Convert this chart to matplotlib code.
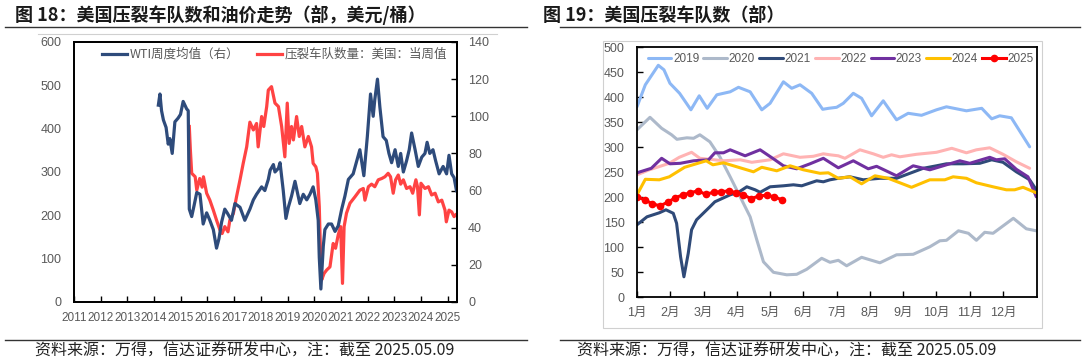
import matplotlib
matplotlib.use('Agg')
import matplotlib.pyplot as plt
from matplotlib.lines import Line2D
from matplotlib.patches import Rectangle

plt.rcParams['font.family'] = ['Noto Sans CJK SC', 'DejaVu Sans']
plt.rcParams['axes.unicode_minus'] = False
NUMFONT = ['Liberation Sans', 'Noto Sans CJK SC']

# ---- left chart: frac fleets vs WTI ----
wti_t = [2014.16, 2014.22, 2014.28, 2014.35, 2014.45, 2014.53, 2014.59, 2014.68, 2014.78, 2014.9,
         2014.99, 2015.09, 2015.22, 2015.28, 2015.32, 2015.41, 2015.5, 2015.6, 2015.72, 2015.84,
         2015.97, 2016.09, 2016.22, 2016.34, 2016.43, 2016.53, 2016.65, 2016.74, 2016.9, 2017.03,
         2017.22, 2017.40, 2017.59, 2017.72, 2017.84, 2018.03, 2018.15, 2018.28, 2018.35, 2018.47,
         2018.53, 2018.66, 2018.72, 2018.84, 2018.94, 2019.03, 2019.15, 2019.28, 2019.4, 2019.46,
         2019.59, 2019.72, 2019.84, 2019.96, 2020.06, 2020.15, 2020.19, 2020.25, 2020.34, 2020.4,
         2020.53, 2020.65, 2020.78, 2020.9, 2021.03, 2021.15, 2021.28, 2021.46, 2021.71, 2021.86,
         2021.99, 2022.11, 2022.21, 2022.27, 2022.37, 2022.46, 2022.58, 2022.7, 2022.8, 2022.9,
         2023.03, 2023.15, 2023.24, 2023.34, 2023.46, 2023.56, 2023.65, 2023.78, 2023.9, 2024.03,
         2024.15, 2024.23, 2024.33, 2024.45, 2024.55, 2024.68, 2024.83, 2024.96, 2025.05, 2025.15,
         2025.24, 2025.33]
wti_v = [106, 112, 103, 98, 94, 85, 88, 80, 97, 99,
         101, 108, 104, 103, 50, 46, 52, 59, 58, 42,
         48, 44, 39, 29, 34, 43, 50, 48, 44, 53,
         51, 44, 50, 55, 58, 62, 60, 66, 71, 74,
         70, 72, 75, 60, 45, 51, 57, 65, 57, 53,
         58, 55, 58, 62, 55, 44, 24, 7, 30, 39,
         42, 42, 38, 41, 50, 57, 66, 69, 82, 68,
         89, 112, 100, 109, 120, 105, 89, 87, 80, 75,
         82, 73, 80, 70, 76, 82, 91, 82, 73, 78,
         80, 86, 80, 82, 76, 69, 73, 69, 79, 69,
         67, 60]

frac_t = [2015.32, 2015.36, 2015.41, 2015.54, 2015.6, 2015.71, 2015.8, 2015.85, 2015.97, 2016.09,
          2016.22, 2016.34, 2016.47, 2016.55, 2016.65, 2016.77, 2016.84, 2016.97, 2017.09, 2017.22,
          2017.34, 2017.47, 2017.59, 2017.72, 2017.84, 2017.9, 2018.03, 2018.11, 2018.22, 2018.28,
          2018.4, 2018.53, 2018.66, 2018.78, 2018.9, 2018.99, 2019.06, 2019.15, 2019.22, 2019.34,
          2019.44, 2019.53, 2019.65, 2019.78, 2019.9, 2019.96, 2020.06, 2020.12, 2020.19, 2020.24,
          2020.28, 2020.37, 2020.47, 2020.59, 2020.71, 2020.8, 2020.9, 2020.99, 2021.06, 2021.12,
          2021.21, 2021.34, 2021.53, 2021.71, 2021.84, 2021.9, 2022.03, 2022.15, 2022.27, 2022.4,
          2022.53, 2022.65, 2022.77, 2022.86, 2022.96, 2023.05, 2023.15, 2023.24, 2023.34, 2023.46,
          2023.59, 2023.69, 2023.81, 2023.87, 2023.94, 2024.0, 2024.15, 2024.28, 2024.4, 2024.53,
          2024.65, 2024.78, 2024.9, 2024.95, 2025.05, 2025.15, 2025.24, 2025.3]
frac_v = [405, 351, 297, 289, 258, 285, 265, 289, 251, 235,
          212, 189, 166, 158, 174, 162, 189, 204, 243, 282,
          320, 358, 415, 397, 412, 358, 428, 405, 451, 489,
          497, 459, 451, 405, 335, 459, 366, 405, 374, 428,
          382, 405, 358, 382, 358, 320, 312, 297, 220, 105,
          51, 66, 74, 81, 135, 124, 155, 174, 43, 174,
          205, 228, 243, 258, 262, 235, 266, 272, 266, 282,
          285, 289, 297, 289, 251, 282, 293, 272, 282, 262,
          266, 251, 282, 266, 201, 274, 262, 266, 247, 251,
          231, 235, 212, 185, 212, 208, 197, 201]

years = list(range(2011, 2026))

# ---- right chart: frac fleets by year ----
months = ['1月', '2月', '3月', '4月', '5月', '6月', '7月', '8月', '9月', '10月', '11月', '12月']

m2019 = [0, 0.25, 0.64, 0.81, 0.99, 1.28, 1.62, 1.87, 2.11, 2.40, 2.80, 3.05, 3.40, 3.75, 4.0,
         4.40, 4.65, 4.90, 5.25, 5.58, 5.76, 6.0, 6.2, 6.5, 6.75, 7.05, 7.40, 7.80, 8.15, 8.55,
         9.0, 9.3, 9.9, 10.36, 10.66, 10.9, 11.25, 11.8]
v2019 = [381, 425, 464, 455, 428, 408, 375, 403, 378, 405, 411, 420, 411, 375, 388,
         431, 418, 425, 408, 376, 378, 380, 388, 408, 398, 363, 393, 355, 368, 364,
         375, 381, 373, 378, 357, 363, 359, 301]

m2020 = [0, 0.39, 0.74, 1.04, 1.2, 1.5, 1.7, 1.89, 2.19, 2.49, 2.80, 3.10, 3.40, 3.60, 3.80,
         4.10, 4.5, 4.8, 5.10, 5.55, 5.8, 6.05, 6.3, 6.75, 7.3, 7.8, 8.3, 8.8, 9.1, 9.3,
         9.66, 9.96, 10.2, 10.45, 10.7, 11.31, 11.7, 12.0]
v2020 = [335, 360, 338, 325, 316, 319, 318, 325, 311, 281, 241, 201, 161, 115, 71,
         50, 45, 46, 56, 78, 70, 74, 63, 80, 69, 85, 86, 101, 113, 114,
         133, 128, 114, 130, 128, 158, 137, 133]

m2021 = [0, 0.3, 0.67, 0.87, 1.09, 1.19, 1.31, 1.41, 1.54, 1.64, 1.79, 2.19, 2.34, 2.80, 3.05,
         3.30, 3.55, 3.7, 4.0, 4.4, 4.7, 4.95, 5.40, 5.6, 5.8, 6.05, 6.4, 6.8, 7.3, 7.8,
         8.2, 8.6, 9.0, 9.3, 9.8, 10.3, 10.66, 11.0, 11.4, 11.8, 12.0]
v2021 = [145, 161, 169, 175, 168, 148, 81, 41, 88, 135, 155, 181, 191, 205, 210,
         221, 215, 210, 221, 223, 225, 223, 233, 231, 235, 238, 241, 235, 238, 238,
         248, 258, 263, 267, 267, 268, 275, 270, 251, 235, 215]

m2022 = [0, 0.37, 0.97, 1.27, 1.64, 1.89, 2.19, 2.6, 3.1, 3.45, 4.0, 4.40, 4.9, 5.3, 5.6,
         5.8, 6.05, 6.25, 6.7, 7.1, 7.4, 7.65, 7.9, 8.4, 9.0, 9.46, 9.9, 10.2, 10.6, 11.0,
         11.4, 11.8]
v2022 = [245, 255, 268, 280, 290, 278, 276, 273, 275, 270, 275, 287, 280, 282, 287,
         285, 283, 278, 295, 287, 280, 285, 281, 286, 290, 298, 289, 295, 299, 286,
         271, 258]

m2023 = [0, 0.43, 0.74, 0.99, 1.3, 1.7, 2.15, 2.34, 2.6, 2.8, 3.25, 3.7, 4.1, 4.4, 4.8,
         5.2, 5.6, 6.05, 6.5, 6.95, 7.2, 7.8, 8.3, 8.8, 9.3, 9.7, 10.0, 10.6, 10.8, 11.05,
         11.4, 11.75, 12.0]
v2023 = [249, 258, 278, 267, 268, 273, 275, 289, 289, 295, 283, 295, 277, 263, 257,
         267, 278, 259, 273, 257, 262, 243, 263, 255, 265, 273, 268, 280, 275, 277,
         256, 241, 201]

m2024 = [0, 0.25, 0.67, 0.97, 1.43, 1.78, 2.08, 2.28, 2.6, 3.0, 3.5, 3.75, 4.2, 4.6, 5.0,
         5.5, 5.75, 6.05, 6.4, 6.75, 7.15, 7.55, 7.9, 8.25, 8.8, 9.25, 9.5, 9.9, 10.2, 10.7,
         11.1, 11.35, 11.6, 12.0]
v2024 = [205, 236, 235, 241, 260, 267, 273, 265, 269, 261, 251, 260, 253, 263, 255,
         248, 249, 238, 241, 227, 243, 238, 229, 220, 235, 235, 241, 238, 229, 221,
         215, 215, 220, 209]

m2025 = [0, 0.23, 0.46, 0.69, 0.92, 1.15, 1.38, 1.6, 1.83, 2.06, 2.3, 2.53, 2.76, 2.98, 3.2,
         3.43, 3.67, 3.9, 4.13, 4.35]
v2025 = [201, 195, 187, 183, 190, 199, 205, 209, 213, 206, 210, 211, 213, 209, 205,
         197, 203, 204, 201, 195]

TICK = '#595959'

fig = plt.figure(figsize=(10.88, 3.63), dpi=100)


def fig_line(x0, x1, y0, y1, color, lw):
    # pixel coords of the 1088x363 canvas
    fig.add_artist(Line2D([x0 / 1088, x1 / 1088], [1 - y0 / 363, 1 - y1 / 363],
                          transform=fig.transFigure, color=color, lw=lw))


# titles and rules
fig.text(15 / 1088, 1 - 15 / 363, '图 18：美国压裂车队数和油价走势（部，美元/桶）',
         fontsize=13, fontweight='bold', color='#1a1a1a', va='center', ha='left')
fig.text(543 / 1088, 1 - 15 / 363, '图 19：美国压裂车队数（部）',
         fontsize=13, fontweight='bold', color='#1a1a1a', va='center', ha='left')
fig_line(5, 527, 27, 27, '#333333', 1.0)
fig_line(560, 1080, 27, 27, '#333333', 1.0)
fig_line(38, 497, 34, 34, '#d0d0d0', 0.8)
fig.add_artist(Rectangle((603 / 1088, 1 - 328 / 363), 439 / 1088, 287 / 363,
                         transform=fig.transFigure, fill=False, ec='#d0d0d0', lw=0.8))
fig_line(5, 527, 340, 340, '#333333', 1.0)
fig_line(560, 1080, 340, 340, '#333333', 1.0)
src = '资料来源：万得，信达证券研发中心，注：截至 2025.05.09'
fig.text(35 / 1088, 1 - 351 / 363, src, fontsize=11.5, color='#222222', va='center')
fig.text(577 / 1088, 1 - 351 / 363, src, fontsize=11.5, color='#222222', va='center')

# ---- left chart ----
ax1 = fig.add_axes([74 / 1088, 1 - 302 / 363, 383 / 1088, 260 / 363])
ax1b = ax1.twinx()
l_frac, = ax1.plot(frac_t, frac_v, color='#FF4343', lw=2.3, label='压裂车队数量：美国：当周值')
l_wti, = ax1b.plot(wti_t, wti_v, color='#2E4B7B', lw=2.3, label='WTI周度均值（右）')
ax1.set_xlim(2011, 2025.35)
ax1.set_ylim(0, 600)
ax1b.set_ylim(0, 140)
ax1.set_yticks(range(0, 601, 100))
ax1b.set_yticks(range(0, 141, 20))
ax1.set_xticks(years)
ax1.set_xticklabels([str(y) for y in years])
ax1.tick_params(axis='x', direction='in', length=4, width=1, pad=7, labelsize=8.5, labelcolor=TICK)
ax1.tick_params(axis='y', length=0, pad=9, labelsize=9, labelcolor=TICK)
ax1b.tick_params(axis='y', direction='in', length=4, width=1, pad=8, labelsize=9, labelcolor=TICK)
for lab in ax1.get_xticklabels() + ax1.get_yticklabels() + ax1b.get_yticklabels():
    lab.set_family(NUMFONT)
for a in (ax1, ax1b):
    for s in a.spines.values():
        s.set_color('black')
        s.set_linewidth(1.3)
ax1b.legend([l_wti, l_frac], [l_wti.get_label(), l_frac.get_label()], loc='upper left',
            bbox_to_anchor=(0.045, 1.02), ncol=2, frameon=False, prop={'size': 9},
            handlelength=2.0, handletextpad=0.2, columnspacing=1.4, labelcolor=TICK)

# ---- right chart ----
ax2 = fig.add_axes([637 / 1088, 1 - 297.3 / 363, 400.3 / 1088, 250 / 363])
series = [
    ('2019', m2019, v2019, '#8DB8F5'),
    ('2020', m2020, v2020, '#ADB9CA'),
    ('2021', m2021, v2021, '#2F4A78'),
    ('2022', m2022, v2022, '#FFB3B3'),
    ('2023', m2023, v2023, '#7030A0'),
    ('2024', m2024, v2024, '#FFC000'),
]
for name, xs, ys, c in series:
    ax2.plot(xs, ys, color=c, lw=2.2, label=name, solid_capstyle='round')
ax2.plot(m2025, v2025, color='#FF0000', lw=2.2, marker='o', markersize=4.5, label='2025')
ax2.set_xlim(0, 12.03)
ax2.set_ylim(0, 500)
ax2.set_yticks(range(0, 501, 50))
ax2.set_xticks(range(12))
ax2.set_xticklabels(months)
ax2.tick_params(axis='x', direction='in', length=4, width=1, pad=7, labelsize=9, labelcolor=TICK)
ax2.tick_params(axis='y', direction='in', length=4, width=1, pad=9, labelsize=9, labelcolor=TICK)
for lab in ax2.get_xticklabels() + ax2.get_yticklabels():
    lab.set_family(NUMFONT)
for s in ax2.spines.values():
    s.set_color('black')
    s.set_linewidth(1.3)
ax2.legend(loc='upper left', bbox_to_anchor=(0.0, 1.02), ncol=7, frameon=False,
           prop={'family': NUMFONT, 'size': 8.5},
           handlelength=2.0, handletextpad=0.15, columnspacing=0.35, labelcolor=TICK)

fig.savefig('out.png', dpi=100)
